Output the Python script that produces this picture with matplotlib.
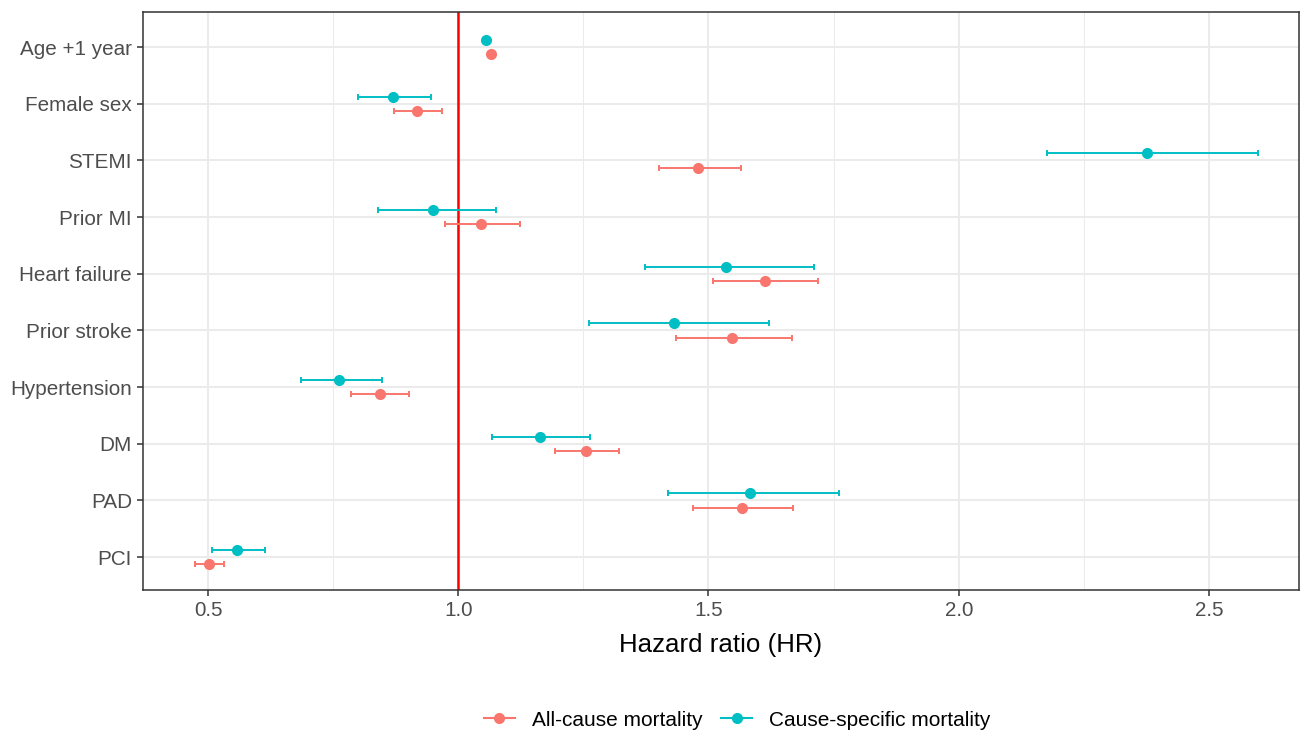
import numpy as np
import matplotlib
matplotlib.use('Agg')
from matplotlib import pyplot as plt
from matplotlib.lines import Line2D

plt.rcParams['font.family'] = ['Liberation Sans', 'DejaVu Sans']

# categories listed top to bottom
cats = ['Age +1 year', 'Female sex', 'STEMI', 'Prior MI', 'Heart failure',
        'Prior stroke', 'Hypertension', 'DM', 'PAD', 'PCI']

# all-cause mortality
all_hr = [1.065, 0.917, 1.480, 1.045, 1.612, 1.547, 0.843, 1.256, 1.566, 0.501]
all_lo = [1.060, 0.871, 1.402, 0.973, 1.510, 1.436, 0.785, 1.193, 1.470, 0.474]
all_hi = [1.070, 0.967, 1.564, 1.123, 1.718, 1.666, 0.901, 1.322, 1.668, 0.531]

# cause-specific mortality
cs_hr = [1.055, 0.869, 2.376, 0.949, 1.534, 1.431, 0.761, 1.163, 1.582, 0.557]
cs_lo = [1.050, 0.800, 2.177, 0.839, 1.374, 1.262, 0.686, 1.067, 1.420, 0.507]
cs_hi = [1.060, 0.945, 2.598, 1.075, 1.710, 1.621, 0.847, 1.264, 1.761, 0.613]

red = '#F8766D'
cyan = '#00BFC4'
pos = np.arange(len(cats))[::-1] + 1.0
dodge = 0.125

fig = plt.figure(figsize=(13, 7.32), dpi=100)
ax = fig.add_axes([143/1300, 1-590/732, 1156/1300, 578/732])

ax.set_xlim(0.37, 2.68)
ax.set_ylim(0.42, 10.62)

# grid like theme_bw
for v in np.arange(0.5, 2.6, 0.5):
    ax.axvline(v, color='#EBEBEB', lw=1.5, zorder=0)
for v in np.arange(0.75, 2.6, 0.5):
    ax.axvline(v, color='#EBEBEB', lw=0.75, zorder=0)
for p in pos:
    ax.axhline(p, color='#EBEBEB', lw=1.5, zorder=0)

ax.axvline(1.0, color='red', lw=1.8, zorder=1)

all_err = [np.array(all_hr) - np.array(all_lo), np.array(all_hi) - np.array(all_hr)]
cs_err = [np.array(cs_hr) - np.array(cs_lo), np.array(cs_hi) - np.array(cs_hr)]

ax.errorbar(all_hr, pos - dodge, xerr=all_err, fmt='o', color=red, ms=7,
            elinewidth=1.4, capsize=2.2, capthick=1.4, zorder=3)
ax.errorbar(cs_hr, pos + dodge, xerr=cs_err, fmt='o', color=cyan, ms=7,
            elinewidth=1.4, capsize=2.2, capthick=1.4, zorder=3)

ax.set_yticks(pos)
ax.set_yticklabels(cats)
ax.set_xticks([0.5, 1.0, 1.5, 2.0, 2.5])
ax.set_xticklabels(['0.5', '1.0', '1.5', '2.0', '2.5'])
ax.tick_params(axis='both', colors='#333333', labelcolor='#4D4D4D',
               labelsize=14.9, length=4.5, width=1.1, pad=3.5)
for s in ax.spines.values():
    s.set_color('#333333')
    s.set_linewidth(1.1)

ax.set_xlabel('Hazard ratio (HR)', fontsize=18.6, labelpad=9)

handles = [Line2D([], [], color=red, marker='o', ms=7, lw=1.5),
           Line2D([], [], color=cyan, marker='o', ms=7, lw=1.5)]
fig.legend(handles, ['All-cause mortality', 'Cause-specific mortality'],
           loc='center', bbox_to_anchor=(0.567, 1-720/732), ncol=2,
           frameon=False, fontsize=15, handlelength=1.5, columnspacing=0.9,
           handletextpad=0.8)

fig.savefig('out.png', dpi=100)
